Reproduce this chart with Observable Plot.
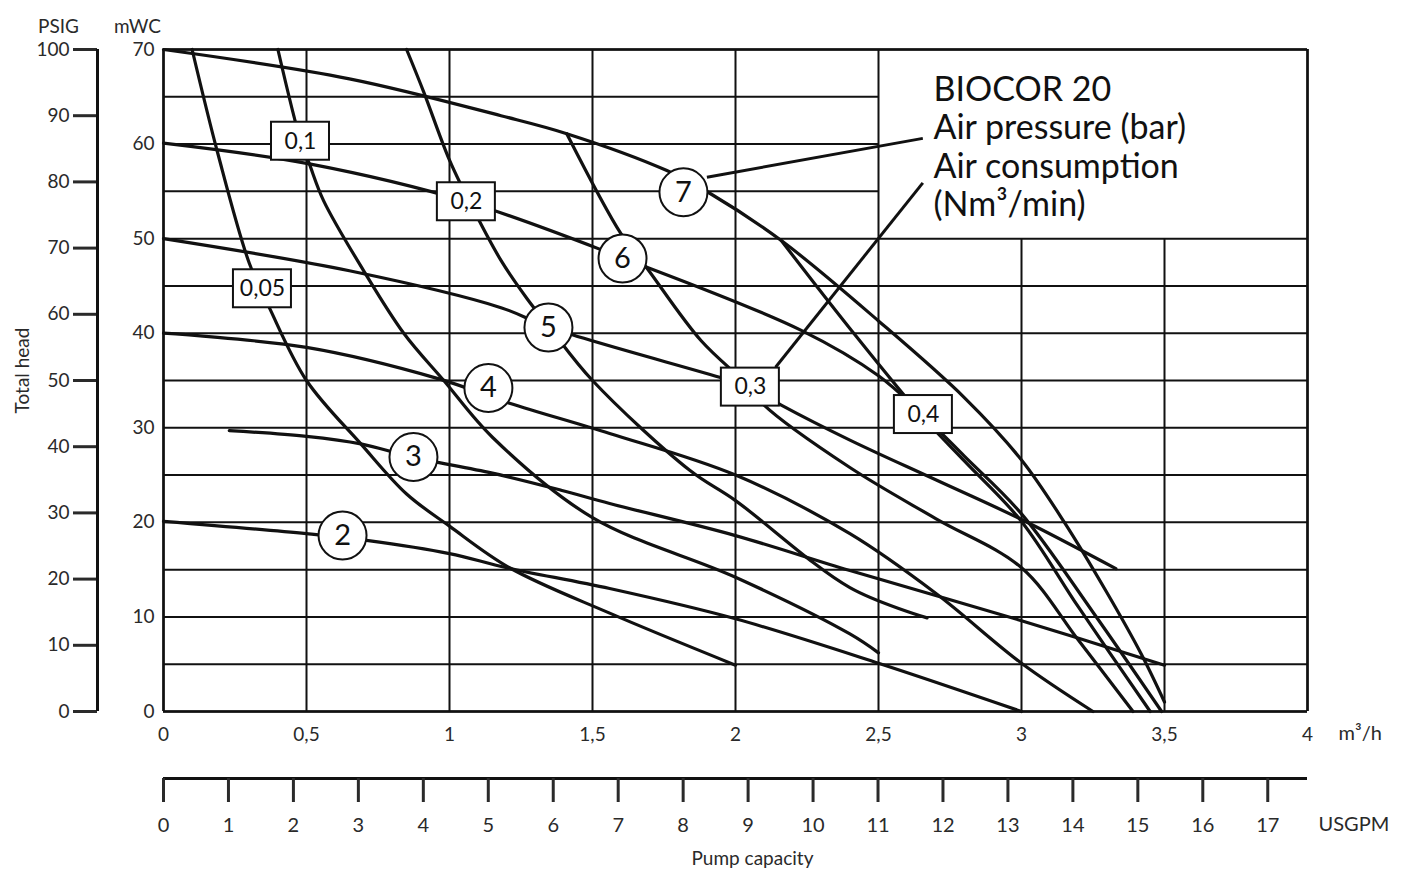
<!DOCTYPE html>
<html><head><meta charset="utf-8">
<script src="https://cdn.jsdelivr.net/npm/d3@7"></script>
<script src="https://cdn.jsdelivr.net/npm/@observablehq/plot@0.6"></script>
<style>
html,body{margin:0;padding:0;background:#fff;}
#chart svg{display:block;}
</style></head><body><div id="chart"></div>
<script>
// ---- tick values ----
const mwcTicks = [0,10,20,30,40,50,60,70];
const psigTicks = [0,10,20,30,40,50,60,70,80,90,100];
const m3hTicks = [0,0.5,1,1.5,2,2.5,3,3.5,4];
const usgpmTicks = [0,1,2,3,4,5,6,7,8,9,10,11,12,13,14,15,16,17];
const gridHead = [0,5,10,15,20,25,30,35,40,45,50,55,60,65,70];
const PSIG_TO_MWC = 0.7;
const USGPM_TO_M3H = 0.22712;

// ---- air pressure curves (bar): [m3/h, mWC] ----
const bar7 = [[0,70],[0.65,66.9],[1.18,63.0],[1.41,61.1],[1.76,57.2],[1.91,54.8],[2.16,49.8],[2.5,41.3],[2.8,33.2],[3.0,26.6],[3.15,20.0],[3.3,12.5],[3.42,6.0],[3.5,1.0]];
const bar6 = [[0,60.1],[0.51,57.9],[1.06,53.9],[1.61,47.9],[2.23,40.3],[2.5,35.5],[2.65,31.5],[2.8,27.0],[3.0,20.9],[3.25,10.5],[3.49,0]];
const bar5 = [[0,50],[0.65,46.6],[1.18,42.7],[1.35,40.6],[1.96,35.2],[2.05,34.3],[2.16,32.4],[2.4,28.7],[2.7,24.5],[3.0,20.3],[3.33,15.1]];
const bar4 = [[0,40],[0.5,38.5],[0.96,35.2],[1.21,32.6],[1.56,29.4],[2.0,25.0],[2.4,18.8],[2.7,12.5],[3.0,5.1],[3.25,0]];
const bar3 = [[0.23,29.7],[0.5,29.1],[0.69,28.3],[0.87,26.9],[1.15,25.2],[1.39,23.4],[1.56,22.0],[2.0,18.6],[2.4,14.9],[3.0,9.6],[3.5,4.9]];
const bar2 = [[0,20.1],[0.5,18.8],[0.71,18.1],[1.0,16.7],[1.2,15.2],[1.56,13.0],[2.0,9.8],[2.5,5.1],[3.0,0]];

// ---- air consumption curves (Nm3/min) ----
const c005 = [[0.10,70],[0.19,59.0],[0.30,47.4],[0.37,42.7],[0.50,35.0],[0.69,28.3],[0.85,23.0],[1.0,19.6],[1.21,15.2],[1.56,10.4],[2.0,4.9]];
const c01 = [[0.40,70],[0.48,60.3],[0.51,57.9],[0.56,54.0],[0.70,46.6],[0.84,40.0],[0.98,35.0],[1.15,29.0],[1.5,20.5],[2.0,14.2],[2.4,8.2],[2.5,6.2]];
const c02 = [[0.85,70],[0.91,65.5],[1.0,58.3],[1.09,52.7],[1.18,47.7],[1.27,43.7],[1.35,40.6],[1.50,35.0],[1.84,25.5],[2.0,22.3],[2.4,13.1],[2.67,9.9]];
const c03 = [[1.41,61.1],[1.60,50.5],[1.69,46.9],[1.88,39.2],[2.05,34.3],[2.10,32.4],[2.4,25.8],[2.7,20.4],[3.0,15.2],[3.2,7.5],[3.39,0]];
const c04 = [[2.16,49.8],[2.4,40.5],[2.65,31.3],[2.8,26.5],[3.0,20.1],[3.2,11.0],[3.45,0]];

// ---- label positions ----
const pressureNames = ["2","3","4","5","6","7"];
const pressureLabelAt = [[0.626,18.6],[0.874,26.9],[1.136,34.2],[1.346,40.6],[1.605,47.9],[1.818,54.9]];
const consumptionNames = ["0,05","0,1","0,2","0,3","0,4"];
const consumptionLabelAt = [[0.346,44.7],[0.479,60.3],[1.059,53.9],[2.052,34.3],[2.657,31.4]];
const leaderFrom = [[1.90,56.5],[2.14,36.4]];
const leaderTo = [[2.655,60.6],[2.655,55.9]];
const titleLines = ["BIOCOR 20","Air pressure (bar)","Air consumption","(Nm³/min)"];

const curves = [bar7,bar6,bar5,bar4,bar3,bar2,c005,c01,c02,c03,c04];

// ---- geometry ----
const W = 1408, mL = 163, mR = 101, mT = 49, mB = 40, H1 = 751;
const pxPerQ = (W - mL - mR) / 4;
const pxPerH = (H1 - mT - mB) / 70;
const boxHalfW = 29 / pxPerQ, boxHalfH = 19 / pxPerH;
const font = "Lato, 'Open Sans', sans-serif";
const fmt = d => String(d).replace(".", ",");

const curveMarks = curves.map(c => Plot.line(c, {x: d => d[0], y: d => d[1], stroke: "#111", strokeWidth: 3.2, curve: "catmull-rom"}));

const main = Plot.plot({
  width: W, height: H1, marginLeft: mL, marginRight: mR, marginTop: mT, marginBottom: mB,
  x: {domain: [0, 4]}, y: {domain: [0, 70]},
  style: {fontFamily: font, fontSize: "19px", color: "#2a2a2a", background: "#fff", overflow: "visible"},
  marks: [
    Plot.ruleY(gridHead, {x1: 0, x2: d => (d > 50 && d < 70) ? 2.5 : 4, stroke: "#111", strokeWidth: 2}),
    Plot.ruleX(m3hTicks, {y1: 0, y2: d => (d === 3 || d === 3.5) ? 50 : 70, stroke: "#111", strokeWidth: 2}),
    Plot.ruleY([0, 70], {x1: 0, x2: 4, stroke: "#111", strokeWidth: 2.5}),
    Plot.ruleX([0, 4], {y1: 0, y2: 70, stroke: "#111", strokeWidth: 2.5}),
    ...curveMarks,
    Plot.link(leaderFrom.map((f, i) => ({f, t: leaderTo[i]})), {x1: d => d.f[0], y1: d => d.f[1], x2: d => d.t[0], y2: d => d.t[1], stroke: "#111", strokeWidth: 3}),
    Plot.dot(pressureLabelAt, {x: d => d[0], y: d => d[1], r: 24, fill: "#fff", stroke: "#111", strokeWidth: 2}),
    Plot.text(pressureLabelAt, {x: d => d[0], y: d => d[1], text: (d, i) => pressureNames[i], fontSize: 29, fill: "#111"}),
    Plot.rect(consumptionLabelAt, {x1: d => d[0] - boxHalfW, x2: d => d[0] + boxHalfW, y1: d => d[1] - boxHalfH, y2: d => d[1] + boxHalfH, fill: "#fff", stroke: "#111", strokeWidth: 2}),
    Plot.text(consumptionLabelAt, {x: d => d[0], y: d => d[1], text: (d, i) => consumptionNames[i], fontSize: 23, fill: "#111"}),
    Plot.text([titleLines.join("\n")], {frameAnchor: "top-left", dx: 770, dy: 24, textAnchor: "start", lineAnchor: "top", lineHeight: 1.13, fontSize: 34, fill: "#111"}),
    Plot.axisY(mwcTicks, {anchor: "left", tickSize: 0, tickPadding: 9, label: null, fontSize: 19}),
    Plot.axisY(psigTicks.map(p => p * PSIG_TO_MWC), {anchor: "left", dx: -66, tickSize: 24, tickPadding: 4, strokeWidth: 3, label: null, fontSize: 19, tickFormat: d => Math.round(d / PSIG_TO_MWC)}),
    Plot.ruleX([0], {y1: 0, y2: 100 * PSIG_TO_MWC, dx: -66, stroke: "#111", strokeWidth: 3}),
    Plot.axisX(m3hTicks, {anchor: "bottom", tickSize: 0, tickPadding: 16, label: null, fontSize: 19, tickFormat: fmt}),
    Plot.text(["m³/h"], {frameAnchor: "bottom-right", dx: 31, dy: 28, textAnchor: "start", fontSize: 20, fill: "#2a2a2a"}),
    Plot.text(["PSIG"], {frameAnchor: "top-left", dx: -105, dy: -30, textAnchor: "middle", fontSize: 19, fill: "#2a2a2a"}),
    Plot.text(["mWC"], {frameAnchor: "top-left", dx: -26, dy: -30, textAnchor: "middle", fontSize: 19, fill: "#2a2a2a"}),
    Plot.text(["Total head"], {frameAnchor: "left", dx: -141, dy: -10, rotate: -90, textAnchor: "middle", fontSize: 19, fill: "#2a2a2a"})
  ]
});

const usMax = 4 / USGPM_TO_M3H;
const second = Plot.plot({
  width: W, height: 125, marginLeft: mL, marginRight: mR, marginTop: 26, marginBottom: 98,
  x: {domain: [0, usMax]}, y: {domain: [0, 1], axis: null},
  style: {fontFamily: font, fontSize: "20px", color: "#2a2a2a", background: "#fff", overflow: "visible"},
  marks: [
    Plot.ruleY([0], {x1: 0, x2: usMax, stroke: "#111", strokeWidth: 3}),
    Plot.axisX(usgpmTicks, {anchor: "bottom", tickSize: 24, tickPadding: 15, strokeWidth: 3, label: null, fontSize: 20}),
    Plot.text(["USGPM"], {frameAnchor: "bottom-right", dx: 11, dy: 52, textAnchor: "start", fontSize: 20, fill: "#2a2a2a"}),
    Plot.text(["Pump capacity"], {frameAnchor: "bottom", dx: 17, dy: 86, textAnchor: "middle", fontSize: 19, fill: "#2a2a2a"})
  ]
});

const el = document.getElementById("chart");
el.appendChild(main);
el.appendChild(second);
</script>
</body></html>
